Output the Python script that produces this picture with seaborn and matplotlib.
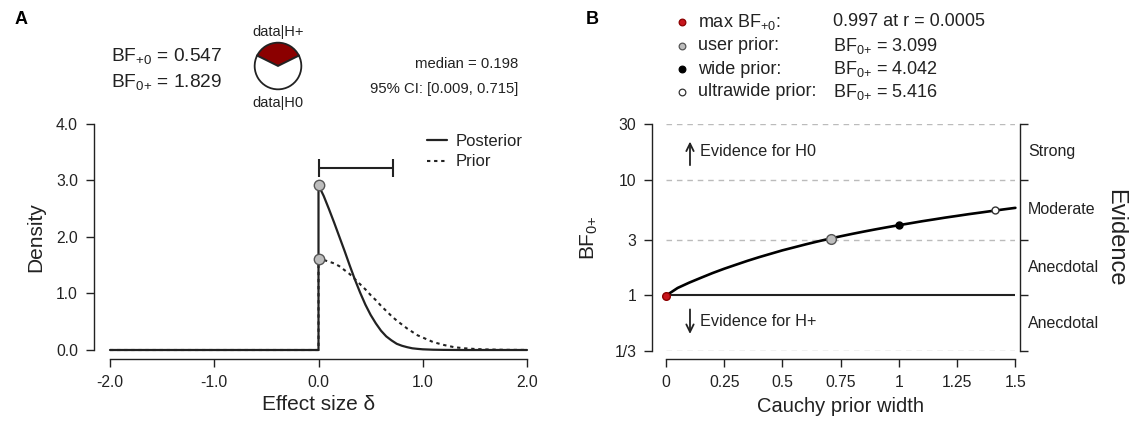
import matplotlib
matplotlib.use("Agg")
import matplotlib.pyplot as plt
import seaborn as sns
import numpy as np
from matplotlib.lines import Line2D
from matplotlib.ticker import NullLocator
from matplotlib.transforms import blended_transform_factory

# ------------------------------------------------------------------ data
bf_plus0 = 0.547
bf_0plus = 1.829
post_median = 0.198
ci_low, ci_high = 0.009, 0.715

post_delta = [-2.0, 0.0, 0.0, 0.05, 0.10, 0.15, 0.20, 0.25, 0.30, 0.35, 0.40,
              0.45, 0.50, 0.55, 0.60, 0.65, 0.70, 0.75, 0.80, 0.85, 0.90, 0.95,
              1.00, 1.10, 1.20, 1.40, 2.00]
post_dens = [0.0, 0.0, 2.91, 2.72, 2.49, 2.25, 2.00, 1.75, 1.49, 1.24, 1.01,
             0.80, 0.62, 0.47, 0.34, 0.24, 0.17, 0.11, 0.075, 0.05, 0.03, 0.02,
             0.012, 0.005, 0.002, 0.0, 0.0]

prior_delta = [-2.0, 0.0, 0.0, 0.05, 0.10, 0.15, 0.20, 0.25, 0.30, 0.35, 0.40,
               0.45, 0.50, 0.55, 0.60, 0.65, 0.70, 0.75, 0.80, 0.85, 0.90, 0.95,
               1.00, 1.10, 1.20, 1.30, 1.40, 1.50, 1.60, 1.80, 2.00]
prior_dens = [0.0, 0.0, 1.60, 1.59, 1.56, 1.53, 1.48, 1.41, 1.34, 1.25, 1.16,
              1.07, 0.97, 0.88, 0.78, 0.69, 0.60, 0.52, 0.45, 0.38, 0.32, 0.26,
              0.22, 0.14, 0.09, 0.05, 0.03, 0.018, 0.01, 0.003, 0.001]

peak_delta = [0.0, 0.0]
peak_dens = [2.91, 1.60]

r_width = [0.0005, 0.05, 0.10, 0.15, 0.20, 0.25, 0.30, 0.35, 0.40, 0.45, 0.50,
           0.55, 0.60, 0.65, 0.70, 0.75, 0.80, 0.85, 0.90, 0.95, 1.00,
           1.05, 1.10, 1.15, 1.20, 1.25, 1.30, 1.35, 1.40, 1.45, 1.50]
bf_curve = [0.997, 1.16, 1.29, 1.42, 1.56, 1.70, 1.84, 1.99, 2.14, 2.29, 2.45,
            2.60, 2.76, 2.92, 3.08, 3.24, 3.40, 3.56, 3.72, 3.88, 4.04,
            4.20, 4.37, 4.53, 4.70, 4.86, 5.03, 5.19, 5.36, 5.53, 5.70]

r_special = [0.0005, 0.707, 1.0, 1.414]
bf_special = [0.997, 3.099, 4.042, 5.416]
special_names = ["max BF$_{+0}$:", "user prior:", "wide prior:", "ultrawide prior:"]
special_texts = ["0.997 at r = 0.0005", "BF$_{0{+}}$ = 3.099",
                 "BF$_{0{+}}$ = 4.042", "BF$_{0{+}}$ = 5.416"]

xticksA = [-2.0, -1.0, 0.0, 1.0, 2.0]
xlabelsA = ["-2.0", "-1.0", "0.0", "1.0", "2.0"]
yticksA = [0.0, 1.0, 2.0, 3.0, 4.0]
ylabelsA = ["0.0", "1.0", "2.0", "3.0", "4.0"]
xticksB = [0, 0.25, 0.5, 0.75, 1.0, 1.25, 1.5]
xlabelsB = ["0", "0.25", "0.5", "0.75", "1", "1.25", "1.5"]
yticksB = [1/3, 1, 3, 10, 30]
ylabelsB = ["1/3", "1", "3", "10", "30"]
evidence_bounds = [30, 10, 3, 1, 1/3]
evidence_names = ["Strong", "Moderate", "Anecdotal", "Anecdotal"]

# ------------------------------------------------------------------ style
sns.set_theme(style="white")
plt.rcParams['font.family'] = ['Liberation Sans', 'DejaVu Sans']
plt.rcParams['mathtext.fontset'] = 'custom'
plt.rcParams['mathtext.rm'] = 'Liberation Sans'
plt.rcParams['mathtext.it'] = 'Liberation Sans:italic'
plt.rcParams['mathtext.bf'] = 'Liberation Sans:bold'

ink = '#222222'
W, H = 1131, 421
fig = plt.figure(figsize=(W / 100, H / 100), dpi=100)
fig.patch.set_facecolor('white')


def fx(px):
    return px / W


def fy(py):
    return 1 - py / H


# ------------------------------------------------------------------ panel A
axA = fig.add_axes([fx(110), fy(350), fx(527) - fx(110), fy(123.5) - fy(350)])
axA.set_facecolor('none')
sns.lineplot(x=prior_delta, y=prior_dens, estimator=None, sort=False, ax=axA,
             color=ink, lw=1.5, linestyle=(0, (1.6, 1.8)), clip_on=False)
sns.lineplot(x=post_delta, y=post_dens, estimator=None, sort=False, ax=axA,
             color=ink, lw=1.6, clip_on=False)
axA.plot(peak_delta, peak_dens, 'o', ms=7.5, mfc='#bdbdbd', mec='#555555',
         mew=1.0, clip_on=False, zorder=5)

ci_y = 3.22
axA.hlines(ci_y, ci_low, ci_high, color=ink, lw=1.5)
axA.vlines([ci_low, ci_high], ci_y - 0.16, ci_y + 0.16, color=ink, lw=1.5)

axA.set_xlim(-2, 2)
axA.set_ylim(0, 4)
axA.set_xticks(xticksA, xlabelsA)
axA.set_yticks(yticksA, ylabelsA)
sns.despine(ax=axA, offset={'left': 11.8, 'bottom': 6.5})
axA.spines['left'].set_bounds(0, 4)
axA.spines['bottom'].set_bounds(-2, 2)
axA.set_xlabel("Effect size δ", fontsize=15, color=ink)
axA.set_ylabel("Density", fontsize=15, color=ink)
axA.xaxis.label.set_va('center')
axA.yaxis.label.set_va('center')
axA.xaxis.set_label_coords(0.5, (350 - 405) / 226.5)
axA.yaxis.set_label_coords((36 - 110) / 417, 0.5)

legA = axA.legend([Line2D([], [], color=ink, lw=1.6),
                   Line2D([], [], color=ink, lw=1.5, linestyle=(0, (1.6, 1.8)))],
                  ["Posterior", "Prior"], loc='upper left',
                  bbox_to_anchor=(fx(427), fy(134)), bbox_transform=fig.transFigure,
                  frameon=False, fontsize=12, handlelength=1.2, handletextpad=0.5,
                  labelspacing=0.33, borderpad=0, borderaxespad=0)
for t in legA.get_texts():
    t.set_color(ink)

# ------------------------------------------------------------------ panel B
axB = fig.add_axes([fx(666), fy(350.7), fx(1015.4) - fx(666), fy(124.3) - fy(350.7)])
axB.set_facecolor('none')
axB.set_yscale('log')
axB.set_xlim(0, 1.5)
axB.set_ylim(1/3, 30)

for b in [30, 10, 3, 1/3]:
    axB.hlines(b, 0, 1.5, color='#bbbbbb', lw=1.0, linestyle=(0, (4, 3.5)))
axB.hlines(1, 0, 1.5, color=ink, lw=1.5)

sns.lineplot(x=r_width, y=bf_curve, estimator=None, sort=False, ax=axB,
             color='black', lw=1.9, clip_on=False)

sp_face = ['#c8161d', '#bdbdbd', 'black', 'white']
sp_edge = ['#8b0000', '#555555', 'black', '#333333']
sp_size = [5.5, 7.0, 5.0, 5.0]
for xr, yb, fc, ec, ms in zip(r_special, bf_special, sp_face, sp_edge, sp_size):
    axB.plot([xr], [yb], 'o', ms=ms, mfc=fc, mec=ec, mew=1.0, clip_on=False, zorder=5)

axB.set_xticks(xticksB, xlabelsB)
axB.set_yticks(yticksB, ylabelsB)
axB.yaxis.set_minor_locator(NullLocator())
sns.despine(ax=axB, right=False, offset={'left': 10, 'bottom': 6, 'right': 3})
axB.spines['left'].set_bounds(1/3, 30)
axB.spines['right'].set_bounds(1/3, 30)
axB.spines['bottom'].set_bounds(0, 1.5)
axB.set_xlabel("Cauchy prior width", fontsize=14.5, color=ink)
axB.set_ylabel("BF$_{0{+}}$", fontsize=15, color=ink)
axB.xaxis.label.set_va('center')
axB.yaxis.label.set_va('center')
axB.xaxis.set_label_coords(0.5, (350.7 - 407) / 226.4)
axB.yaxis.set_label_coords((589 - 666) / 349.4, 0.5)

# evidence annotations
axB.annotate('', xy=(0.103, 22.5), xytext=(0.103, 12.6),
             arrowprops=dict(arrowstyle='->,head_length=0.45,head_width=0.22',
                             lw=1.3, color=ink))
axB.text(0.146, 17.3, "Evidence for H0", va='center', ha='left', fontsize=11.7, color=ink)
axB.annotate('', xy=(0.103, 0.44), xytext=(0.103, 0.80),
             arrowprops=dict(arrowstyle='->,head_length=0.45,head_width=0.22',
                             lw=1.3, color=ink))
axB.text(0.146, 0.59, "Evidence for H+", va='center', ha='left', fontsize=11.7, color=ink)

trB = blended_transform_factory(axB.transAxes, axB.transData)
for name, hi, lo in zip(evidence_names, evidence_bounds[:-1], evidence_bounds[1:]):
    axB.text(1.036, np.sqrt(hi * lo), name, transform=trB, va='center', ha='left',
             fontsize=11.5, color=ink)
axB.text(1.285, 0.5, "Evidence", transform=axB.transAxes, rotation=-90,
         va='center', ha='center', fontsize=17, color=ink)

for ax in (axA, axB):
    ax.tick_params(axis='both', which='major', direction='out', length=5.8,
                   width=1.0, color=ink, labelcolor=ink, labelsize=11.3)
    ax.tick_params(axis='x', bottom=True, pad=6)
    ax.tick_params(axis='y', left=True, pad=5.5)
    for s in ax.spines.values():
        s.set_color(ink)
        s.set_linewidth(1.0)
axB.tick_params(axis='y', right=True, labelright=False)

# ------------------------------------------------------------------ headers
fig.text(fx(21), fy(20), "A", fontsize=13, fontweight='bold', ha='center',
         va='center', color='black')
fig.text(fx(592), fy(19), "B", fontsize=13, fontweight='bold', ha='center',
         va='center', color='black')

fig.text(fx(111), fy(61), f"BF$_{{+0}}$ = {bf_plus0:.3f}", fontsize=13.8,
         va='baseline', ha='left', color=ink)
fig.text(fx(111), fy(86.5), f"BF$_{{0{{+}}}}$ = {bf_0plus:.3f}", fontsize=13.8,
         va='baseline', ha='left', color=ink)
fig.text(fx(518), fy(68), f"median = {post_median:.3f}", fontsize=10.7,
         va='baseline', ha='right', color=ink)
fig.text(fx(518), fy(93), f"95% CI: [{ci_low:.3f}, {ci_high:.3f}]", fontsize=10.7,
         va='baseline', ha='right', color=ink)

# pie chart of p(data|H+) vs p(data|H0)
pie_r = 24.5
axPie = fig.add_axes([fx(278 - pie_r), fy(66 + pie_r), 2 * pie_r / W, 2 * pie_r / H])
frac_plus = bf_plus0 / (1 + bf_plus0)
axPie.pie([bf_plus0, 1.0], colors=['#8b0000', 'white'],
          startangle=90 - 180 * frac_plus, counterclock=True,
          wedgeprops=dict(edgecolor=ink, linewidth=1.3))
axPie.set_xlim(-1.05, 1.05)
axPie.set_ylim(-1.05, 1.05)
fig.text(fx(278), fy(36), "data|H+", fontsize=10.5, va='baseline', ha='center', color=ink)
fig.text(fx(278), fy(107), "data|H0", fontsize=10.5, va='baseline', ha='center', color=ink)

# panel B legend of special priors
axLeg = fig.add_axes([0, 0, 1, 1], facecolor='none')
axLeg.set_xlim(0, W)
axLeg.set_ylim(H, 0)
axLeg.axis('off')
rows_y = [21.5, 46, 69, 92]
leg_ms = [4.8, 4.8, 4.8, 4.8]
for yy, fc, ec, ms, name, txt in zip(rows_y, sp_face, sp_edge, leg_ms,
                                     special_names, special_texts):
    axLeg.plot([682], [yy], 'o', ms=ms, mfc=fc, mec=ec, mew=0.9)
    axLeg.text(698, yy, name, fontsize=13, va='center', ha='left', color=ink)
    axLeg.text(833, yy, txt, fontsize=13, va='center', ha='left', color=ink)

fig.savefig("out.png", dpi=100, facecolor='white')
